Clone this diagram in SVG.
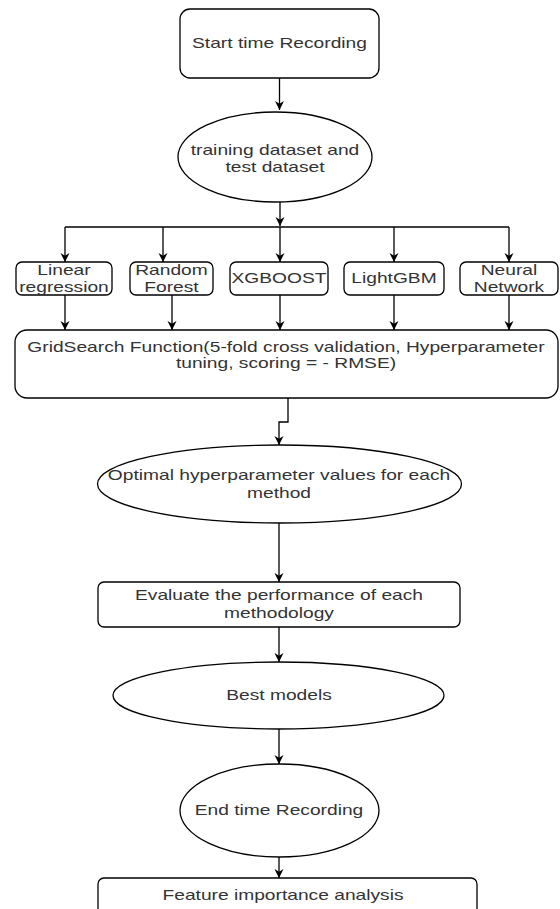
<svg xmlns="http://www.w3.org/2000/svg" width="560" height="909" viewBox="0 0 560 909">
<style>
.s{fill:#fff;stroke:#000;stroke-width:1.3}
.c{fill:none;stroke:#000;stroke-width:1.3}
text{font-family:"Liberation Sans",Arial,sans-serif;font-size:15px;fill:#333;text-anchor:middle}
</style>
<defs>
<marker id="a" viewBox="0 0 10 10" refX="10" refY="5" markerWidth="9" markerHeight="10" markerUnits="userSpaceOnUse" orient="auto">
<path d="M0,0 L10,5 L0,10 L3,5 z" fill="#000"/>
</marker>
</defs>
<rect width="560" height="909" fill="#fff"/>
<g id="connectors">
<path class="c" d="M279.5,78 V110" marker-end="url(#a)"/>
<path class="c" d="M280,202 V226" marker-end="url(#a)"/>
<path class="c" d="M65,227 H509"/>
<path class="c" d="M65,227 V262" marker-end="url(#a)"/>
<path class="c" d="M163,227 V262" marker-end="url(#a)"/>
<path class="c" d="M280,227 V262" marker-end="url(#a)"/>
<path class="c" d="M394,227 V262" marker-end="url(#a)"/>
<path class="c" d="M509,227 V262" marker-end="url(#a)"/>
<path class="c" d="M65,295 V330" marker-end="url(#a)"/>
<path class="c" d="M172,295 V330" marker-end="url(#a)"/>
<path class="c" d="M280,295 V330" marker-end="url(#a)"/>
<path class="c" d="M394,295 V330" marker-end="url(#a)"/>
<path class="c" d="M509,295 V330" marker-end="url(#a)"/>
<path class="c" d="M288,398 V422 H279 V445" marker-end="url(#a)"/>
<path class="c" d="M279,523 V582" marker-end="url(#a)"/>
<path class="c" d="M279,627 V662" marker-end="url(#a)"/>
<path class="c" d="M279,729 V764" marker-end="url(#a)"/>
<path class="c" d="M279,857 V878" marker-end="url(#a)"/>
</g>
<g id="start">
<rect class="s" x="180" y="9" width="199" height="69" rx="10"/>
<text transform="translate(279.5 48) scale(1.28 1)">Start time Recording</text>
</g>
<g id="dataset">
<ellipse class="s" cx="275" cy="157" rx="97" ry="45"/>
<text transform="translate(275 155) scale(1.28 1)">training dataset and</text>
<text transform="translate(275 172) scale(1.28 1)">test dataset</text>
</g>
<g id="linear">
<rect class="s" x="16" y="262" width="96" height="33" rx="6"/>
<text transform="translate(64 275) scale(1.28 1)">Linear</text>
<text transform="translate(64 292) scale(1.28 1)">regression</text>
</g>
<g id="rf">
<rect class="s" x="130" y="262" width="83" height="33" rx="6"/>
<text transform="translate(171.5 275) scale(1.28 1)">Random</text>
<text transform="translate(171.5 292) scale(1.28 1)">Forest</text>
</g>
<g id="xgb">
<rect class="s" x="230" y="262" width="98" height="33" rx="6"/>
<text transform="translate(279 283) scale(1.28 1)">XGBOOST</text>
</g>
<g id="lgbm">
<rect class="s" x="344" y="262" width="100" height="33" rx="6"/>
<text transform="translate(394 283) scale(1.28 1)">LightGBM</text>
</g>
<g id="nn">
<rect class="s" x="460" y="262" width="98" height="33" rx="6"/>
<text transform="translate(509 275) scale(1.28 1)">Neural</text>
<text transform="translate(509 292) scale(1.28 1)">Network</text>
</g>
<g id="grid">
<rect class="s" x="15" y="330" width="543" height="68" rx="12"/>
<text transform="translate(286 352) scale(1.28 1)">GridSearch Function(5-fold cross validation, Hyperparameter</text>
<text transform="translate(286 368) scale(1.28 1)">tuning, scoring = - RMSE)</text>
</g>
<g id="optimal">
<ellipse class="s" cx="279.5" cy="484" rx="182" ry="39"/>
<text transform="translate(279 480) scale(1.28 1)">Optimal hyperparameter values for each</text>
<text transform="translate(279 498) scale(1.28 1)">method</text>
</g>
<g id="evaluate">
<rect class="s" x="98" y="582" width="362" height="45" rx="6"/>
<text transform="translate(279 600) scale(1.28 1)">Evaluate the performance of each</text>
<text transform="translate(279 618) scale(1.28 1)">methodology</text>
</g>
<g id="best">
<ellipse class="s" cx="278.5" cy="695.5" rx="165.5" ry="33.5"/>
<text transform="translate(279 700) scale(1.28 1)">Best models</text>
</g>
<g id="end">
<ellipse class="s" cx="279.5" cy="810.5" rx="99.5" ry="46.5"/>
<text transform="translate(279 815) scale(1.28 1)">End time Recording</text>
</g>
<g id="feature">
<rect class="s" x="98" y="878" width="379" height="60" rx="6"/>
<text transform="translate(283 900) scale(1.28 1)">Feature importance analysis</text>
</g>
</svg>
